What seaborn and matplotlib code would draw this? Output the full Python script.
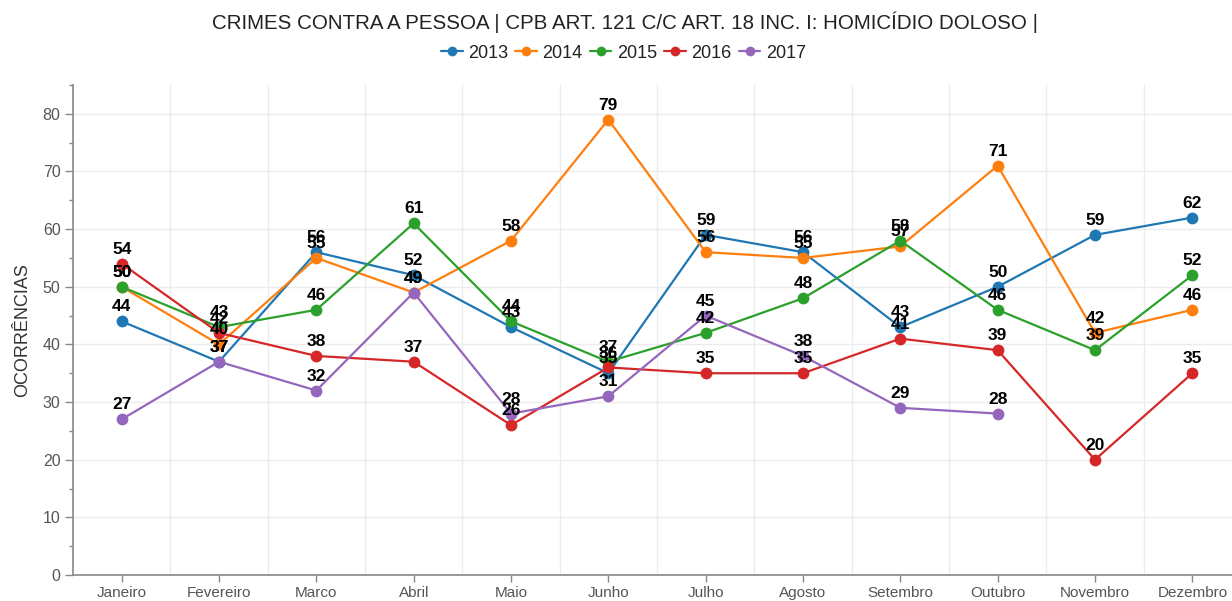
import numpy as np
import pandas as pd
import matplotlib
matplotlib.use("Agg")
import matplotlib.pyplot as plt
from matplotlib.ticker import MultipleLocator, FixedLocator
from matplotlib.lines import Line2D
import seaborn as sns

meses = ["Janeiro", "Fevereiro", "Marco", "Abril", "Maio", "Junho", "Julho",
         "Agosto", "Setembro", "Outubro", "Novembro", "Dezembro"]
anos = ["2013", "2014", "2015", "2016", "2017"]
v2013 = [44, 37, 56, 52, 43, 35, 59, 56, 43, 50, 59, 62]
v2014 = [50, 40, 55, 49, 58, 79, 56, 55, 57, 71, 42, 46]
v2015 = [50, 43, 46, 61, 44, 37, 42, 48, 58, 46, 39, 52]
v2016 = [54, 42, 38, 37, 26, 36, 35, 35, 41, 39, 20, 35]
v2017 = [27, 37, 32, 49, 28, 31, 45, 38, 29, 28, np.nan, np.nan]
cores = ["#1f77b4", "#ff7f0e", "#2ca02c", "#d62728", "#9467bd"]
titulo = "CRIMES CONTRA A PESSOA | CPB ART. 121 C/C ART. 18 INC. I: HOMICÍDIO DOLOSO |"
ylabel = "OCORRÊNCIAS"

series = [v2013, v2014, v2015, v2016, v2017]
rows = []
for ano, vals in zip(anos, series):
    for i, v in enumerate(vals):
        rows.append({"ano": ano, "mes_idx": i, "mes": meses[i], "valor": v})
df = pd.DataFrame(rows).dropna()

sns.set_theme(style="white")
plt.rcParams['font.family'] = ['Liberation Sans', 'DejaVu Sans']

fig = plt.figure(figsize=(12.32, 6.01), dpi=100)
ax = fig.add_axes([73/1232, 1 - 575/601, 1168/1232, 490/601])

sns.lineplot(data=df, x="mes_idx", y="valor", hue="ano", hue_order=anos,
             palette=cores, marker="o", markersize=8.5, markeredgewidth=0,
             linewidth=1.6, ax=ax, legend=False, sort=False)

for ano, vals in zip(anos, series):
    for i, v in enumerate(vals):
        if np.isnan(v):
            continue
        ax.annotate(f"{int(v)}", (i, v), xytext=(0, 5), textcoords="offset points",
                    ha="center", va="bottom", fontsize=12.5, fontweight="bold",
                    color="black", zorder=10)

ax.set_xlim(-0.5, 11.5)
ax.set_ylim(0, 85)
ax.yaxis.set_major_locator(MultipleLocator(10))
ax.yaxis.set_minor_locator(MultipleLocator(5))
ax.set_xticks(range(12))
ax.set_xticklabels(meses)
ax.xaxis.set_minor_locator(FixedLocator(np.arange(-0.5, 12, 1)))

ax.grid(False)
for y in range(10, 90, 10):
    ax.axhline(y, color="#ececec", lw=1, zorder=0)
for x in np.arange(0.5, 11.5, 1):
    ax.axvline(x, color="#ececec", lw=1, zorder=0)

for s in ["top", "right"]:
    ax.spines[s].set_visible(False)
for s in ["left", "bottom"]:
    ax.spines[s].set_color("#888888")
    ax.spines[s].set_linewidth(1.2)

ax.tick_params(axis="y", which="major", length=6, width=1, color="#888888",
               labelsize=11.5, labelcolor="#555555", left=True, pad=3)
ax.tick_params(axis="y", which="minor", length=3, width=1, color="#888888", left=True)
ax.tick_params(axis="x", which="major", length=5, width=1, color="#888888",
               labelsize=11, labelcolor="#555555", bottom=True, pad=3)
ax.tick_params(axis="x", which="minor", length=0)

ax.set_xlabel("")
ax.set_ylabel(ylabel, fontsize=13, color="#333333", labelpad=8)

fig.text(0.507, 1 - 22/601, titulo, ha="center", va="center", fontsize=14.8, color="#222222")

handles = [Line2D([0], [0], color=c, marker="o", markersize=7, markeredgewidth=0, lw=1.6)
           for c in cores]
fig.legend(handles, anos, loc="center", bbox_to_anchor=(0.506, 1 - 53/601), ncol=5,
           frameon=False, fontsize=13, handlelength=1.2, handletextpad=0.3,
           columnspacing=0.4, labelcolor="#222222")

fig.savefig("out.png", dpi=100)
